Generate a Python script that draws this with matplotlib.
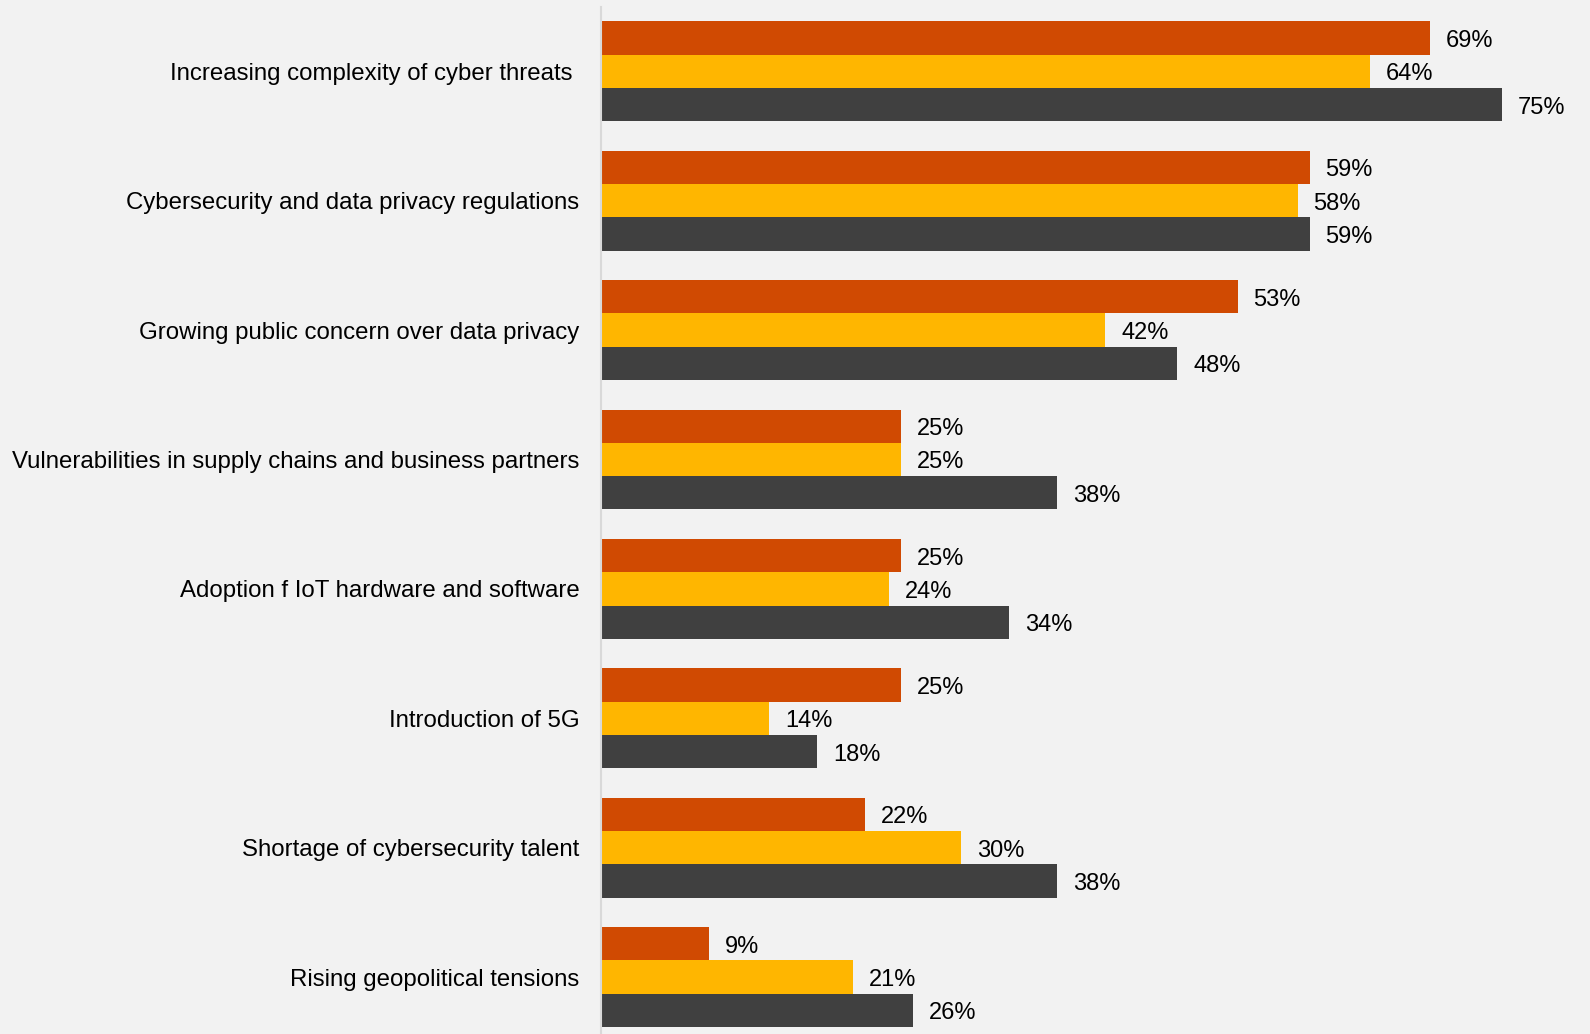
import numpy as np
import matplotlib.pyplot as plt
from matplotlib.transforms import ScaledTranslation

plt.rcParams['font.family'] = ['Liberation Sans', 'DejaVu Sans']

categories = [
    "Increasing complexity of cyber threats ",
    "Cybersecurity and data privacy regulations",
    "Growing public concern over data privacy",
    "Vulnerabilities in supply chains and business partners",
    "Adoption f IoT hardware and software",
    "Introduction of 5G",
    "Shortage of cybersecurity talent",
    "Rising geopolitical tensions",
]
series_a = [69, 59, 53, 25, 25, 25, 22, 9]
series_b = [64, 58, 42, 25, 24, 14, 30, 21]
series_c = [75, 59, 48, 38, 34, 18, 38, 26]
colors = ["#D04A02", "#FFB600", "#404040"]

W, H = 1590, 1034
fig = plt.figure(figsize=(W / 100, H / 100), dpi=100)
fig.patch.set_facecolor("#F2F2F2")

# axes starts at the vertical baseline and runs to the right edge
left_px, top_px = 601, 7
ax = fig.add_axes([left_px / W, 0, (W - left_px) / W, (H - top_px) / H])
ax.set_facecolor("#F2F2F2")

# nudge value labels a few pixels down
lbl_tf = ax.transData + ScaledTranslation(0, -3 / 100, fig.dpi_scale_trans)

y = np.arange(len(categories))
bh = 0.2575
for i, (vals, col) in enumerate(zip([series_a, series_b, series_c], colors)):
    pos = y + (i - 1) * bh
    ax.barh(pos, vals, height=bh, color=col, edgecolor="none")
    for p, v in zip(pos, vals):
        ax.text(v + 1.3, p, f"{v}%", va="center", ha="left", fontsize=17,
                color="#000000", transform=lbl_tf)

ax.set_xlim(0, (W - left_px) / 12.01)
ax.set_ylim(7.44, -0.497)
ax.set_yticks(y)
ax.set_yticklabels(categories, fontsize=17.3)
ax.tick_params(axis="y", length=0, pad=15.5)
ax.set_xticks([])
for s in ["top", "right", "bottom"]:
    ax.spines[s].set_visible(False)
ax.spines["left"].set_color("#D9D9D9")
ax.spines["left"].set_linewidth(1.5)

fig.savefig("out.png", dpi=100, facecolor=fig.get_facecolor())
